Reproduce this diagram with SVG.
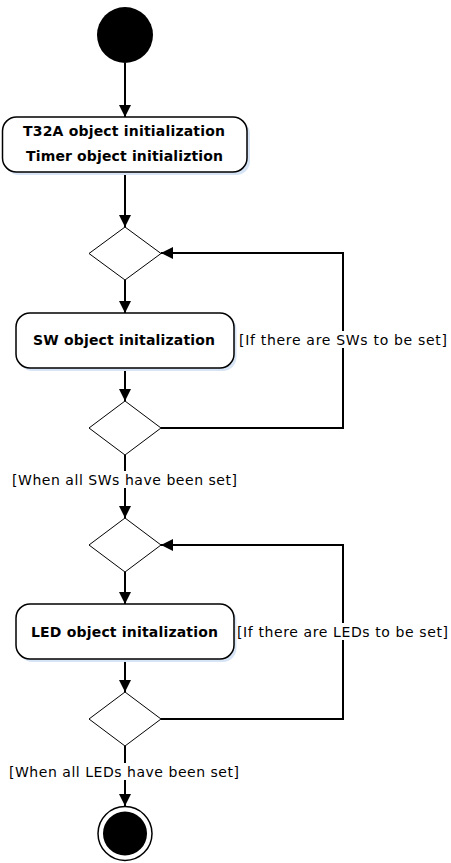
<svg xmlns="http://www.w3.org/2000/svg" width="451" height="863" viewBox="0 0 451 863">
<style>
.act{fill:#fff;stroke:#000;stroke-width:1.5}
.shadow{fill:#d6e4f5;stroke:none}
.dec{fill:#fff;stroke:#000;stroke-width:1}
.edge{fill:none;stroke:#000;stroke-width:2}
.bt{font-family:"DejaVu Sans",Verdana,sans-serif;font-weight:bold;font-size:14px;text-anchor:middle;dominant-baseline:central}
.lt{font-family:"DejaVu Sans",Verdana,sans-serif;font-size:14px;dominant-baseline:central}
.lbg{fill:#fff}
</style>
<defs>
<marker id="arr" viewBox="0 0 12 12" refX="12" refY="6" markerWidth="12" markerHeight="12" markerUnits="userSpaceOnUse" orient="auto">
<path d="M0,0 L12,6 L0,12 Z" fill="#000"/>
</marker>
</defs>
<rect width="451" height="863" fill="#fff"/>
<g id="connectors">
<line class="edge" x1="125" y1="63" x2="125" y2="117" marker-end="url(#arr)"/>
<line class="edge" x1="125" y1="172" x2="125" y2="227" marker-end="url(#arr)"/>
<line class="edge" x1="125" y1="280" x2="125" y2="313" marker-end="url(#arr)"/>
<line class="edge" x1="125" y1="368" x2="125" y2="401" marker-end="url(#arr)"/>
<polyline class="edge" points="161,428 343,428 343,253 161,253" marker-end="url(#arr)"/>
<line class="edge" x1="125" y1="455" x2="125" y2="518" marker-end="url(#arr)"/>
<line class="edge" x1="125" y1="572" x2="125" y2="604" marker-end="url(#arr)"/>
<line class="edge" x1="125" y1="659" x2="125" y2="692" marker-end="url(#arr)"/>
<polyline class="edge" points="161,719 343,719 343,545 161,545" marker-end="url(#arr)"/>
<line class="edge" x1="125" y1="746" x2="125" y2="806" marker-end="url(#arr)"/>
<rect class="lbg" x="238" y="331" width="210" height="17"/>
<text class="lt" x="239" y="339.5" textLength="208" lengthAdjust="spacing">[If there are SWs to be set]</text>
<rect class="lbg" x="11" y="471" width="227" height="17"/>
<text class="lt" x="12" y="479.5" textLength="225" lengthAdjust="spacing">[When all SWs have been set]</text>
<rect class="lbg" x="236" y="623" width="213" height="17"/>
<text class="lt" x="237" y="631.5" textLength="211" lengthAdjust="spacing">[If there are LEDs to be set]</text>
<rect class="lbg" x="8" y="763" width="232" height="17"/>
<text class="lt" x="9" y="771.5" textLength="230" lengthAdjust="spacing">[When all LEDs have been set]</text>
</g>
<g id="start">
<circle cx="125" cy="35" r="28" fill="#000"/>
</g>
<g id="act1">
<rect class="shadow" x="5" y="120" width="245" height="55" rx="14"/>
<rect class="act" x="2.5" y="117" width="244.5" height="55" rx="14"/>
<text class="bt" x="124" y="130.5" textLength="202" lengthAdjust="spacing">T32A object initialization</text>
<text class="bt" x="124.5" y="155.5" textLength="197" lengthAdjust="spacing">Timer object initializtion</text>
</g>
<g id="dec1">
<polygon class="dec" points="125,227 161,253.5 125,280 89,253.5"/>
</g>
<g id="act2">
<rect class="shadow" x="18.5" y="316" width="218" height="55" rx="14"/>
<rect class="act" x="16" y="313" width="218" height="55" rx="14"/>
<text class="bt" x="124" y="339.5" textLength="182" lengthAdjust="spacing">SW object initalization</text>
</g>
<g id="dec2">
<polygon class="dec" points="125,401 161,428 125,455 89,428"/>
</g>
<g id="dec3">
<polygon class="dec" points="125,518 161,545 125,572 89,545"/>
</g>
<g id="act3">
<rect class="shadow" x="18.5" y="607" width="218" height="55" rx="14"/>
<rect class="act" x="16" y="604" width="218" height="55" rx="14"/>
<text class="bt" x="124.5" y="631.5" textLength="187" lengthAdjust="spacing">LED object initalization</text>
</g>
<g id="dec4">
<polygon class="dec" points="125,692 161,719 125,746 89,719"/>
</g>
<g id="final">
<circle cx="125" cy="833.5" r="27" fill="#fff" stroke="#000" stroke-width="1.5"/>
<circle cx="125" cy="833.5" r="22" fill="#000"/>
</g>
</svg>
